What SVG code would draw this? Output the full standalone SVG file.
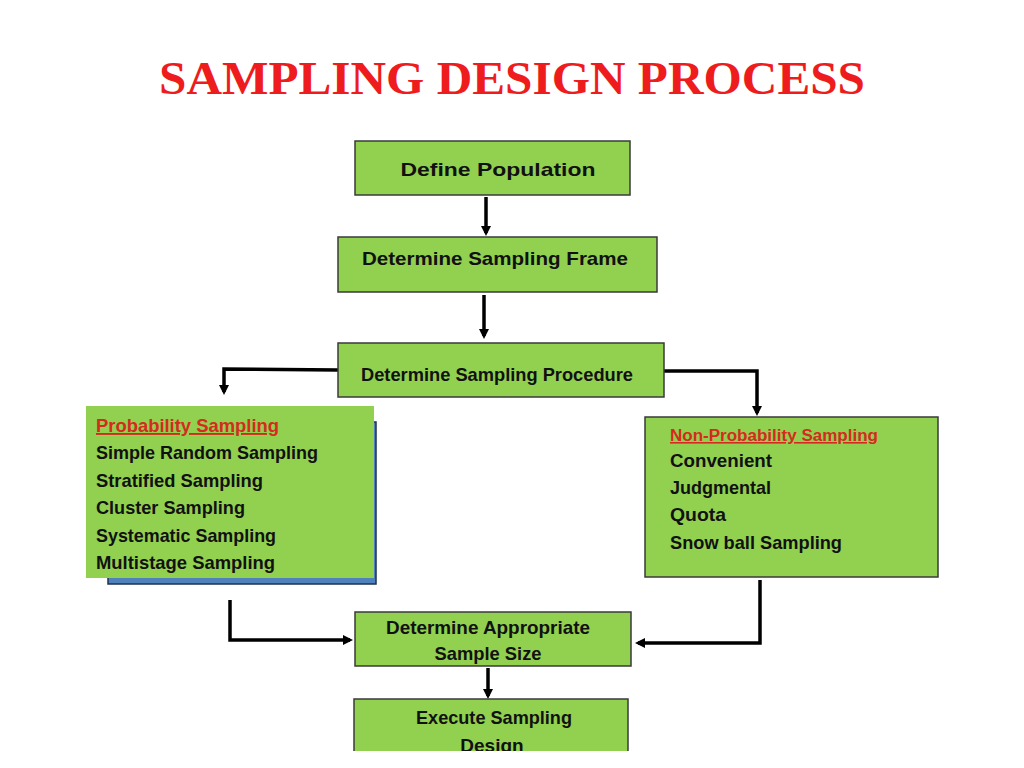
<svg xmlns="http://www.w3.org/2000/svg" width="1024" height="768" viewBox="0 0 1024 768">
<style>
.box{fill:#92d050;stroke:#3a3a3a;stroke-width:1.5}
.t{font-family:"Liberation Sans",Arial,sans-serif;font-weight:bold;fill:#111;font-size:19px}
.c{stroke:#000;stroke-width:3.5;fill:none;marker-end:url(#ah)}
</style>
<defs><marker id="ah" markerWidth="10" markerHeight="10" refX="7" refY="5" orient="auto" markerUnits="userSpaceOnUse"><path d="M0,0 L10,5 L0,10 Z" fill="#000"/></marker></defs>
<rect width="1024" height="768" fill="#fff"/>
<text x="512" y="94" text-anchor="middle" font-family="'Liberation Serif',serif" font-weight="bold" font-size="46" fill="#ee1c1c" textLength="706" lengthAdjust="spacingAndGlyphs">SAMPLING DESIGN PROCESS</text>
<g id="connectors">
<path class="c" d="M486,197 V233"/>
<path class="c" d="M484,295 V336"/>
<path class="c" d="M338,370 L224,369 V392"/>
<path class="c" d="M664,371 H757 V413"/>
<path class="c" d="M230,600 V640 H350"/>
<path class="c" d="M760,580 V643 H638"/>
<path class="c" d="M488,668 V696"/>
</g>
<g id="define"><rect class="box" x="355" y="141" width="275" height="54"/><text class="t" x="498" y="176" text-anchor="middle" font-size="23" textLength="195" lengthAdjust="spacingAndGlyphs">Define Population</text></g>
<g id="frame"><rect class="box" x="338" y="237" width="319" height="55"/><text class="t" x="495" y="265" text-anchor="middle" textLength="266" lengthAdjust="spacingAndGlyphs">Determine Sampling Frame</text></g>
<g id="procedure"><rect class="box" x="338" y="343" width="326" height="54"/><text class="t" x="497" y="381" text-anchor="middle" textLength="272" lengthAdjust="spacingAndGlyphs">Determine Sampling Procedure</text></g>
<g id="prob">
<rect x="108" y="422" width="268" height="162" fill="#4f81bd" stroke="#1f3050" stroke-width="1.5"/>
<rect x="86" y="406" width="288" height="172" fill="#92d050"/>
<text class="t" font-size="19"><tspan x="96" y="432" fill="#d52b1e" text-decoration="underline" textLength="183" lengthAdjust="spacingAndGlyphs">Probability Sampling</tspan><tspan x="96" y="459" textLength="222" lengthAdjust="spacingAndGlyphs">Simple Random Sampling</tspan><tspan x="96" y="487" textLength="167" lengthAdjust="spacingAndGlyphs">Stratified Sampling</tspan><tspan x="96" y="514" textLength="149" lengthAdjust="spacingAndGlyphs">Cluster Sampling</tspan><tspan x="96" y="542" textLength="180" lengthAdjust="spacingAndGlyphs">Systematic Sampling</tspan><tspan x="96" y="569" textLength="179" lengthAdjust="spacingAndGlyphs">Multistage Sampling</tspan></text>
</g>
<g id="nonprob"><rect class="box" x="645" y="417" width="293" height="160"/>
<text class="t"><tspan x="670" y="441" fill="#d52b1e" text-decoration="underline" font-size="16" textLength="208" lengthAdjust="spacingAndGlyphs">Non-Probability Sampling</tspan><tspan x="670" y="467" textLength="102" lengthAdjust="spacingAndGlyphs">Convenient</tspan><tspan x="670" y="494" textLength="101" lengthAdjust="spacingAndGlyphs">Judgmental</tspan><tspan x="670" y="521" textLength="56" lengthAdjust="spacingAndGlyphs">Quota</tspan><tspan x="670" y="549" textLength="172" lengthAdjust="spacingAndGlyphs">Snow ball Sampling</tspan></text></g>
<g id="size"><rect class="box" x="355" y="612" width="276" height="54"/><text class="t" text-anchor="middle"><tspan x="488" y="634" textLength="204" lengthAdjust="spacingAndGlyphs">Determine Appropriate</tspan><tspan x="488" y="660" textLength="107" lengthAdjust="spacingAndGlyphs">Sample Size</tspan></text></g>
<g id="execute"><rect class="box" x="354" y="699" width="274" height="60"/><text class="t" text-anchor="middle"><tspan x="494" y="724" textLength="156" lengthAdjust="spacingAndGlyphs">Execute Sampling</tspan><tspan x="492" y="752">Design</tspan></text></g>
<rect x="340" y="751" width="300" height="17" fill="#fff"/>
</svg>
